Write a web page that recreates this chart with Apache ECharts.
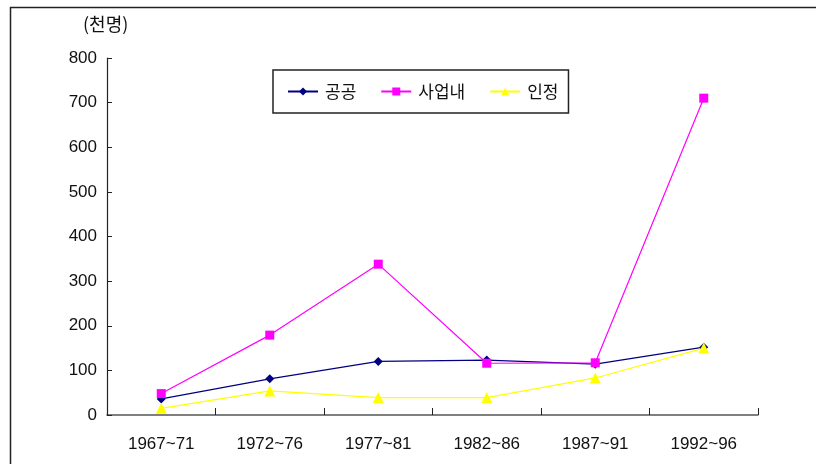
<!DOCTYPE html>
<html>
<head>
<meta charset="utf-8">
<script src="https://cdn.jsdelivr.net/npm/echarts@6/dist/echarts.min.js"></script>
<style>
  html, body { margin: 0; padding: 0; background: #fff; }
  #chart { width: 816px; height: 464px; }
</style>
</head>
<body>
<div id="chart"></div>
<script>
// Periods on the horizontal axis
const periods = ['1967~71', '1972~76', '1977~81', '1982~86', '1987~91', '1992~96'];

// Values in thousands of people
const publicTraining = [36, 81, 120, 123, 114, 152];   // 공공
const inPlantTraining = [48, 179, 338, 116, 117, 710]; // 사업내
const certifiedTraining = [15, 54, 39, 39, 83, 150];   // 인정

const seriesNames = ['공공', '사업내', '인정'];
const yTicks = { min: 0, max: 800, interval: 100 };

const numFont = '"Liberation Sans", Arial, sans-serif';
const krFont = '"Noto Sans CJK KR", "Noto Sans", sans-serif';

const chart = echarts.init(document.getElementById('chart'));

function lineSeries(name, data, color, symbol, size) {
  return {
    name: name,
    type: 'line',
    data: data,
    symbol: symbol,
    symbolSize: size,
    lineStyle: { color: color, width: 1.2 },
    itemStyle: { color: color },
    animation: false
  };
}

chart.setOption({
  backgroundColor: '#fff',
  animation: false,
  graphic: [
    {
      type: 'rect',
      shape: { x: 10.5, y: 7.5, width: 830, height: 480 },
      style: { fill: 'none', stroke: '#222', lineWidth: 1.5 },
      silent: true
    },
    {
      type: 'text',
      left: 83,
      top: 15,
      style: { text: '(천명)', font: '18px ' + krFont, fill: '#111' }
    }
  ],
  legend: {
    left: 273,
    top: 70,
    width: 280,
    height: 34,
    padding: [13, 10, 13, 14],
    itemGap: 24,
    itemWidth: 30,
    itemHeight: 10,
    borderColor: '#222',
    borderWidth: 1.5,
    borderRadius: 0,
    textStyle: { fontFamily: krFont, fontSize: 17, color: '#111', padding: [0, 0, 0, 2] },
    data: seriesNames
  },
  grid: { left: 107, right: 58, top: 58, bottom: 49 },
  xAxis: {
    type: 'category',
    data: periods,
    boundaryGap: true,
    axisLine: { lineStyle: { color: '#555', width: 1.5 } },
    axisTick: { show: true, inside: true, length: 7, lineStyle: { color: '#222' } },
    axisLabel: { fontFamily: numFont, fontSize: 17, color: '#111', margin: 21 },
    splitLine: { show: false }
  },
  yAxis: {
    type: 'value',
    min: yTicks.min,
    max: yTicks.max,
    interval: yTicks.interval,
    axisLine: { show: true, lineStyle: { color: '#222', width: 1.2 } },
    axisTick: { show: true, inside: true, length: 5, lineStyle: { color: '#222' } },
    axisLabel: { fontFamily: numFont, fontSize: 17, color: '#111', margin: 10 },
    splitLine: { show: false }
  },
  series: [
    lineSeries(seriesNames[0], publicTraining, '#000080', 'diamond', 9),
    lineSeries(seriesNames[1], inPlantTraining, '#ff00ff', 'rect', 9),
    lineSeries(seriesNames[2], certifiedTraining, '#ffff00', 'triangle', 11)
  ]
});
</script>
</body>
</html>
